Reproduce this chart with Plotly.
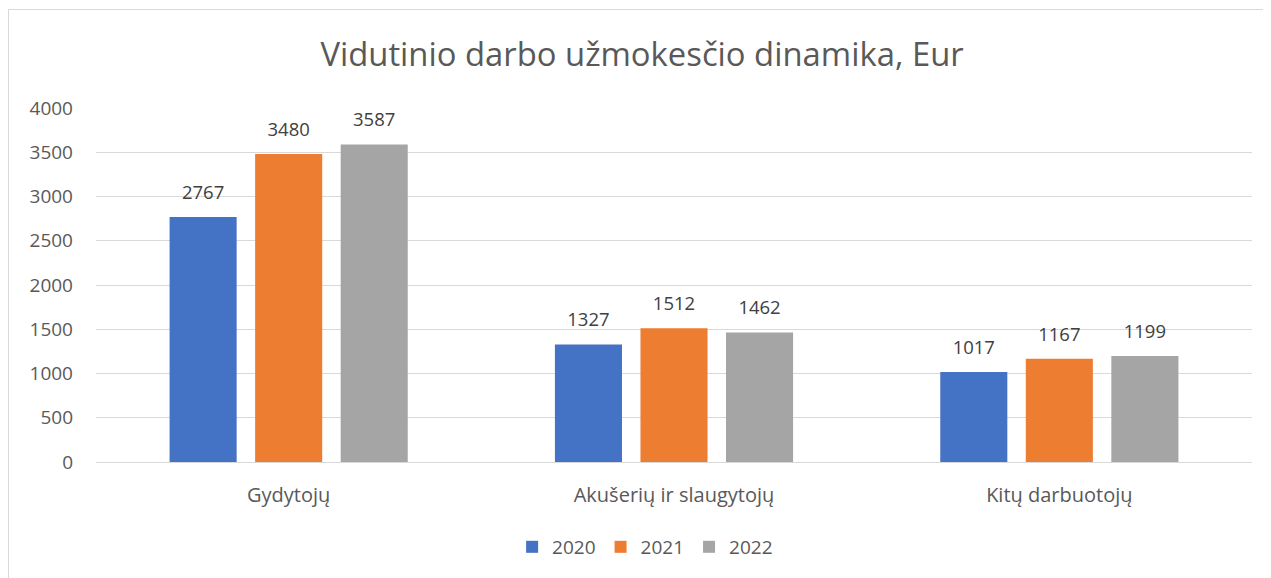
import plotly.graph_objects as go

categories = ["Gydytojų", "Akušerių ir slaugytojų", "Kitų darbuotojų"]
years = ["2020", "2021", "2022"]
values_2020 = [2767, 1327, 1017]
values_2021 = [3480, 1512, 1167]
values_2022 = [3587, 1462, 1199]
series = [values_2020, values_2021, values_2022]
colors = ["#4472C4", "#ED7D31", "#A5A5A5"]

FONT = "Open Sans"
W, H = 1263, 570          # page body has an 8px margin inside the 1271x578 window
L, T, R, B = 88, 100, 19, 116
PW, PH = W - L - R, H - T - B
GAP = 0.334

fig = go.Figure()
for name, vals, col in zip(years, series, colors):
    fig.add_trace(go.Bar(
        name=name, x=categories, y=vals,
        marker=dict(color=col, line=dict(width=0)),
        hoverinfo="x+y+name",
    ))
for name, vals in zip(years, series):
    fig.add_trace(go.Scatter(
        x=categories, y=vals, mode="markers+text",
        text=[str(v) for v in vals], textposition="top center",
        textfont=dict(family=FONT, size=18.5, color="#404040"),
        marker=dict(size=20, color="rgba(0,0,0,0)"),
        showlegend=False, hoverinfo="skip", cliponaxis=False,
    ))

fig.update_layout(
    width=W, height=H,
    margin=dict(l=L, r=R, t=T, b=B),
    paper_bgcolor="white", plot_bgcolor="white",
    barmode="group", bargap=GAP, bargroupgap=0.216,
    scattermode="group", scattergap=GAP,
    title=dict(text="Vidutinio darbo užmokesčio dinamika, Eur",
               x=0.502, xanchor="center", y=1 - 47 / H, yanchor="middle",
               font=dict(family=FONT, size=32.8, color="#595959")),
    font=dict(family=FONT, color="#595959"),
    showlegend=True,
    legend=dict(orientation="h", x=0.475, xanchor="center", y=-0.24, yanchor="middle",
                font=dict(family=FONT, size=19, color="#595959"),
                traceorder="normal"),
    yaxis=dict(range=[0, 4000], dtick=500, tick0=0, showgrid=True,
               gridcolor="#D9D9D9", gridwidth=1, zeroline=True, zerolinecolor="#D9D9D9",
               zerolinewidth=1, showline=False, ticks="",
               tickfont=dict(family=FONT, size=19, color="#595959"),
               ticklabelstandoff=22),
    xaxis=dict(showgrid=False, showline=False, ticks="",
               tickfont=dict(family=FONT, size=20, color="#595959"),
               ticklabelstandoff=19),
    shapes=[dict(type="rect", xref="paper", yref="paper",
                 x0=(0.5 - L) / PW, x1=(W + 20 - L) / PW,
                 y0=-(B + 20) / PH, y1=1 + (T - 1.5) / PH,
                 line=dict(color="#D9D9D9", width=1), fillcolor="rgba(0,0,0,0)", layer="below")],
)

fig.write_html("out.html")
